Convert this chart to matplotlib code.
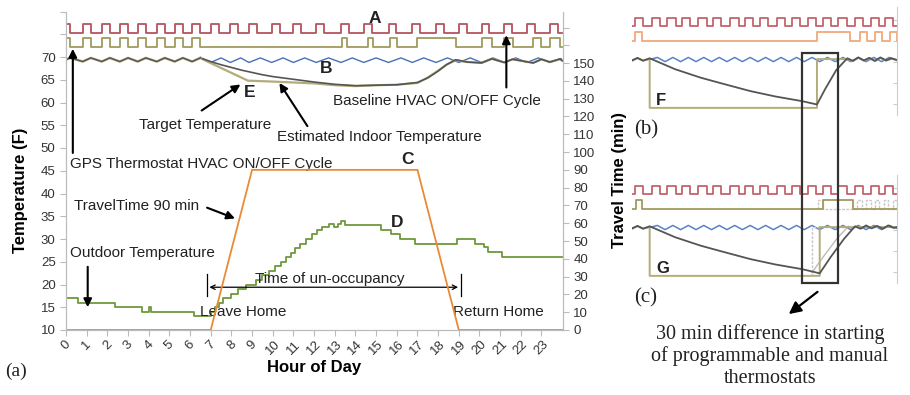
import matplotlib
matplotlib.use("Agg")
import matplotlib.pyplot as plt
from matplotlib.patches import Rectangle
from matplotlib.ticker import FixedLocator, FuncFormatter

plt.rcParams['font.family'] = ['Liberation Sans', 'DejaVu Sans']

# ---------------- data: panel (a) ----------------
hours = list(range(24))

# travel time (min), right axis
travel_t = [0, 7, 9, 17, 19, 24]
travel_v = [0, 0, 90, 90, 0, 0]

# outdoor temperature (F), step curve
out_t = [0, 0.6, 2.35, 3.7, 4.0, 4.1, 6.2, 7.0, 7.2, 7.4, 7.6, 8.0, 8.3, 8.7, 9.2, 9.5, 9.8,
         10.1, 10.4, 10.65, 10.9, 11.1, 11.3, 11.6, 11.9, 12.15, 12.4, 12.7, 12.95, 13.15, 13.3,
         13.5, 15.25, 15.7, 16.15, 16.9, 18.9, 19.8, 20.2, 20.4, 21.1, 24]
out_v = [17, 16, 15, 14, 15, 14, 13, 14, 15, 16, 17, 18, 19, 20, 21, 22, 23,
         24, 25, 26, 27, 28, 29, 30, 31, 32, 32.7, 33.3, 32.6, 33.3, 34,
         33, 32, 31, 30, 29, 30, 29, 28.3, 27.2, 26, 26]

# baseline HVAC on/off (on intervals, hours)
base_on = [(0, 0.2), (0.81, 1.2), (1.73, 2.12), (2.6, 3.0), (3.47, 3.86), (4.39, 4.78),
           (5.26, 5.65), (6.1, 6.5), (7.0, 7.38), (7.95, 8.33), (8.85, 9.23), (9.95, 10.33),
           (11.0, 11.38), (12.1, 12.48), (13.3, 13.68), (14.4, 14.78), (15.6, 15.98),
           (16.75, 17.13), (17.9, 18.28), (19.0, 19.38), (20.1, 20.48), (21.2, 21.58),
           (22.3, 22.68), (23.4, 23.78)]
# GPS thermostat HVAC on/off
gps_on = [(0, 0.2), (0.81, 1.2), (1.73, 2.12), (2.6, 3.0), (3.47, 3.86), (4.39, 4.78),
          (5.26, 5.65), (6.1, 6.5), (13.35, 13.6), (14.6, 14.85), (15.65, 16.0),
          (17.0, 18.85), (20.1, 20.6), (21.2, 21.6), (22.6, 23.0), (23.4, 23.9)]

# indoor temperatures before leaving (all thermostats agree)
early_t = [0, 0.2, 0.81, 1.2, 1.73, 2.12, 2.6, 3.0, 3.47, 3.86, 4.39, 4.78, 5.26, 5.65, 6.1, 6.5]
early_v = [69.4, 69.8, 69.0, 69.8, 69.0, 69.8, 69.0, 69.8, 69.0, 69.8, 69.0, 69.8, 69.0, 69.8, 69.0, 69.8]

# baseline indoor temperature
blue_t = [6.5, 7.0, 7.5, 7.95, 8.45, 8.85, 9.4, 9.95, 10.5, 11.0, 11.55, 12.1, 12.7, 13.3, 13.85,
          14.4, 15.0, 15.6, 16.2, 16.75, 17.3, 17.9, 18.45, 19.0, 19.55, 20.1, 20.65, 21.2,
          21.75, 22.3, 22.85, 23.4, 23.95]
blue_v = [69.8, 68.8, 69.8, 68.8, 69.8, 68.8, 69.8, 68.8, 69.8, 68.8, 69.8, 68.8, 69.8, 68.8, 69.8,
          68.8, 69.8, 68.8, 69.8, 68.8, 69.8, 68.8, 69.8, 68.8, 69.8, 68.8, 69.8, 68.8,
          69.8, 68.8, 69.8, 68.8, 69.6]

# target temperature (GPS)
target_t = [6.5, 6.7, 8.8, 10, 11, 12, 13, 14, 15, 16, 17, 17.5, 18, 18.4, 18.85,
            19.4, 20.1, 20.6, 21.2, 21.6, 22.6, 23.0, 23.4, 23.9, 24]
target_v = [69.8, 69.3, 64.8, 64.6, 64.4, 64.2, 63.8, 63.6, 63.8, 63.9, 64.3, 65.5, 67.0, 68.3, 69.3,
            68.9, 68.7, 69.6, 68.8, 69.5, 68.7, 69.5, 68.9, 69.5, 69.2]

# estimated indoor temperature (GPS)
est_t = [6.5, 7, 7.5, 8, 8.5, 9, 9.5, 10, 10.5, 11, 11.5, 12, 13, 14, 15, 16, 17, 17.5, 18, 18.4,
         18.85, 19.4, 20.1, 20.6, 21.2, 21.6, 22.6, 23.0, 23.4, 23.9, 24]
est_v = [69.8, 69.0, 68.3, 67.7, 67.1, 66.6, 66.1, 65.7, 65.4, 65.1, 64.8, 64.5, 64.0, 63.7, 63.8,
         63.9, 64.4, 65.4, 66.9, 68.3, 69.4, 68.9, 68.7, 69.6, 68.8, 69.5, 68.7, 69.5, 68.9, 69.6, 69.2]

leave_hour, return_hour = 6.8, 19.1

# ---------------- data: panels (b) and (c) ----------------
pb_red_on = [(0.27, 1.0), (1.8, 2.55), (3.2, 3.95), (4.5, 5.25), (6.0, 6.75), (7.3, 8.05),
             (8.9, 9.65), (10.2, 10.95), (11.6, 12.35), (13.1, 13.85), (14.5, 15.25),
             (15.9, 16.65), (17.3, 18.05), (18.7, 19.45), (20.2, 20.95), (21.6, 22.35), (22.9, 23.65)]
pb_orange_on = [(0.27, 0.9), (16.75, 19.75), (20.65, 21.3), (22.0, 22.6), (23.4, 24.0)]
pc_olive_on = [(0.4, 0.9), (17.3, 20.0)]
pc_manual_on = [(16.8, 17.3), (20.4, 20.8), (21.2, 21.6), (22.0, 22.4), (22.8, 23.2), (23.6, 24.0)]

pan_blue_t = [1.6, 2.3, 3.0, 3.7, 4.4, 5.1, 5.8, 6.5, 7.2, 7.9, 8.6, 9.3, 10.0, 10.7, 11.4, 12.1,
              12.8, 13.5, 14.2, 14.9, 15.6, 16.3, 17.0, 17.7, 18.4, 19.1, 19.8, 20.5, 21.2,
              21.9, 22.6, 23.3, 24.0]
pan_blue_v = [70.5, 71.0, 70.0, 71.0, 70.0, 71.0, 70.0, 71.0, 70.0, 71.0, 70.0, 71.0, 70.0, 71.0,
              70.0, 71.0, 70.0, 71.0, 70.0, 71.0, 70.0, 71.0, 70.0, 71.0, 70.0, 71.0, 70.0,
              71.0, 70.0, 71.0, 70.0, 71.0, 70.3]

pb_est_t = [0, 0.5, 1.0, 1.6, 3.9, 6.2, 8.0, 10.7, 13.0, 15.4, 16.75, 17.5, 18.5, 19.5,
            20.0, 20.5, 21.0, 21.5, 22.0, 22.5, 23.0, 23.5, 24.0]
pb_est_v = [70.3, 70.9, 70.2, 70.8, 68.2, 66.2, 64.9, 63.0, 61.7, 60.6, 59.8, 63.5, 68.0, 70.8,
            70.2, 71.0, 70.3, 70.9, 70.2, 71.0, 70.3, 70.8, 70.4]
pb_target_t = [0, 0.5, 1.0, 1.6, 1.6, 16.75, 16.75, 19.5, 20.0, 20.5, 21.0, 21.5, 22.0,
               22.5, 23.0, 23.5, 24.0]
pb_target_v = [70.2, 70.8, 70.3, 70.6, 59.0, 59.0, 70.6, 70.6, 70.1, 70.9, 70.2, 70.8, 70.1,
               70.9, 70.2, 70.7, 70.3]

pc_est_t = [0, 0.5, 1.0, 1.6, 3.9, 6.2, 8.0, 10.7, 13.0, 15.4, 17.0, 18.0, 19.2, 20.2,
            20.7, 21.2, 21.7, 22.2, 22.7, 23.2, 23.7, 24.0]
pc_est_v = [70.3, 70.9, 70.2, 70.8, 68.2, 66.2, 64.9, 63.0, 61.7, 60.6, 59.6, 63.5, 67.8, 70.8,
            70.2, 71.0, 70.3, 70.9, 70.2, 71.0, 70.4, 70.6]
pc_manual_est_t = [16.3, 17.4, 18.6, 19.6]
pc_manual_est_v = [59.8, 63.8, 68.0, 70.8]
pc_target_t = [0, 0.5, 1.0, 1.6, 1.6, 17.0, 17.0, 20.2, 24.0]
pc_target_v = [70.2, 70.8, 70.3, 70.6, 59.0, 59.0, 70.6, 70.6, 70.6]
pc_manual_target_t = [16.3, 16.3, 17.0]
pc_manual_target_v = [59.0, 70.6, 70.6]

box_hours = (15.4, 18.7)

RED = '#B4545E'
OLIVE = '#A09A5E'
KHAKI = '#B3AC7A'
BLUE = '#4A70B8'
GRAY = '#555555'
ORANGE = '#EA8A35'
GREEN = '#70993D'
SPINE = '#BBBBBB'
TXT = '#222222'


def square(intervals, lo, hi, t0=0, t1=24):
    xs, ys = [t0], [lo]
    for a, b in intervals:
        xs += [a, a, b, b]
        ys += [lo, hi, hi, lo]
    xs.append(t1)
    ys.append(lo)
    return xs, ys


fig = plt.figure(figsize=(9.1, 3.95), dpi=100)

# ---------------- panel (a) ----------------
ax = fig.add_axes([66 / 910, 1 - 330 / 395, 497 / 910, 318.5 / 395])
ax2 = ax.twinx()
ax.set_xlim(0, 24.04)
ax.set_ylim(10, 80)
ax2.set_ylim(0, 179)

ax2.plot(travel_t, travel_v, color=ORANGE, lw=1.3)
ax.plot(out_t, out_v, drawstyle='steps-post', color=GREEN, lw=1.3)

xs, ys = square(base_on, 75.3, 77.3)
ax.plot(xs, ys, color=RED, lw=1.3)
xs, ys = square(gps_on, 72.2, 74.2)
ax.plot(xs, ys, color=OLIVE, lw=1.3)

ax.plot(blue_t, blue_v, color=BLUE, lw=1.0)
ax.plot(target_t, target_v, color=KHAKI, lw=1.6)
ax.plot(est_t, est_v, color=GRAY, lw=1.2)
ax.plot(early_t, early_v, color=KHAKI, lw=1.8)
ax.plot(early_t, early_v, color=GRAY, lw=1.0)

for sp in ['top']:
    ax.spines[sp].set_visible(False)
    ax2.spines[sp].set_visible(False)
for a in (ax, ax2):
    for sp in ['left', 'right', 'bottom']:
        a.spines[sp].set_color(SPINE)

ax.set_xticks(hours)
ax.set_xticklabels([str(h) for h in hours], rotation=45, ha='center', va='top', fontsize=9.5)
ax.yaxis.set_major_locator(FixedLocator(list(range(10, 85, 5))))
ax.yaxis.set_major_formatter(FuncFormatter(lambda v, p: '' if v > 70 else '%d' % v))
ax2.yaxis.set_major_locator(FixedLocator(list(range(0, 190, 10))))
ax2.yaxis.set_major_formatter(FuncFormatter(lambda v, p: '' if v > 150 else '%d' % v))
ax.tick_params(axis='both', colors=SPINE, labelcolor='#333333', labelsize=9.5, length=4)
ax.tick_params(axis='x', pad=2)
ax2.tick_params(axis='y', colors=SPINE, labelcolor='#333333', labelsize=9.5, length=4)

ax.set_xlabel('Hour of Day', fontsize=12, fontweight='bold', labelpad=2)
ax.set_ylabel('Temperature (F)', fontsize=12, fontweight='bold')
ax.yaxis.set_label_coords(-0.077, 0.44)
ax2.set_ylabel('Travel Time (min)', fontsize=12, fontweight='bold')
ax2.yaxis.set_label_coords(1.099, 0.47)

# letters
for lab, x, y in [('A', 14.95, 78.4), ('B', 12.6, 67.4), ('C', 16.5, 47.4),
                  ('D', 16.0, 33.7), ('E', 8.9, 62.2)]:
    ax.text(x, y, lab, fontsize=12.5, fontweight='bold', ha='center', va='center', color=TXT)

arrow = dict(arrowstyle='-|>', color='black', lw=1.5, mutation_scale=12)
tk = dict(fontsize=11, color=TXT, va='center', ha='left')
ax.annotate('', xy=(21.3, 75.4), xytext=(21.3, 62.7), arrowprops=arrow)
ax.text(12.9, 60.3, 'Baseline HVAC ON/OFF Cycle', **tk)
ax.annotate('', xy=(8.55, 64.3), xytext=(6.45, 57.9), arrowprops=arrow)
ax.text(3.55, 55.1, 'Target Temperature', **tk)
ax.annotate('', xy=(10.25, 64.8), xytext=(11.75, 54.3), arrowprops=arrow)
ax.text(10.2, 52.4, 'Estimated Indoor Temperature', **tk)
ax.annotate('', xy=(0.33, 72.4), xytext=(0.33, 48.3), arrowprops=arrow)
ax.text(0.18, 46.4, 'GPS Thermostat HVAC ON/OFF Cycle', **tk)
ax.annotate('', xy=(8.3, 34.3), xytext=(6.7, 37.1), arrowprops=arrow)
ax.text(0.4, 37.3, 'TravelTime 90 min', **tk)
ax.annotate('', xy=(1.05, 14.4), xytext=(1.05, 24.5), arrowprops=arrow)
ax.text(0.2, 26.9, 'Outdoor Temperature', **tk)

ax.annotate('', xy=(leave_hour, 19.4), xytext=(return_hour, 19.4),
            arrowprops=dict(arrowstyle='<->', color='black', lw=0.9, mutation_scale=8))
ax.plot([leave_hour, leave_hour], [17.4, 22.3], color='black', lw=0.9)
ax.plot([return_hour, return_hour], [17.4, 22.3], color='black', lw=0.9)
ax.text(12.75, 21.1, 'Time of un-occupancy', fontsize=11, color=TXT, ha='center', va='center')
ax.text(6.5, 14.0, 'Leave Home', **tk)
ax.text(18.7, 14.0, 'Return Home', **tk)

serif = ['Liberation Serif', 'DejaVu Serif']
fig.text(5 / 910, 1 - 371 / 395, '(a)', fontsize=14, family=serif, va='center', color=TXT)

# ---------------- panels (b) and (c) ----------------
ylo, yhi = 57.3, 83.0


def small_panel(top_px):
    a = fig.add_axes([632 / 910, 1 - (top_px + 108) / 395, 265 / 910, 108 / 395])
    a.set_xlim(0, 24)
    a.set_ylim(ylo, yhi)
    for sp in ['left', 'top', 'bottom']:
        a.spines[sp].set_visible(False)
    a.spines['right'].set_color('#CCCCCC')
    a.set_xticks([])
    a.yaxis.tick_right()
    a.set_yticks([60, 65, 70, 75, 80])
    a.tick_params(axis='y', direction='in', length=3, colors='#CCCCCC', labelright=False)
    return a


axb = small_panel(7)
xs, ys = square(pb_red_on, 78.5, 80.4)
axb.plot(xs, ys, color='#C0656E', lw=1.3)
xs, ys = square(pb_orange_on, 74.8, 77.1)
axb.plot(xs, ys, color='#F2AE86', lw=1.4)
axb.plot(pan_blue_t, pan_blue_v, color='#5B82C4', lw=1.1)
axb.plot(pb_target_t, pb_target_v, color=KHAKI, lw=1.4)
axb.plot(pb_est_t, pb_est_v, color=GRAY, lw=1.3)
axb.text(2.2, 60.7, 'F', fontsize=12, fontweight='bold', ha='left', va='center', color=TXT)
fig.text(634 / 910, 1 - 130 / 395, '(b)', fontsize=15, family=serif, va='center', color=TXT)

axc = small_panel(175)
xs, ys = square(pb_red_on, 78.5, 80.4)
axc.plot(xs, ys, color='#C0656E', lw=1.3)
xs, ys = square(pc_manual_on, 74.8, 77.1, t0=16.8, t1=24)
axc.plot(xs, ys, color='#C8C8C8', lw=1.0, ls=(0, (2, 1)))
xs, ys = square(pc_olive_on, 74.8, 77.1)
axc.plot(xs, ys, color=OLIVE, lw=1.3)
axc.plot(pan_blue_t, pan_blue_v, color='#5B82C4', lw=1.1)
axc.plot(pc_manual_target_t, pc_manual_target_v, color='#C8C8C8', lw=1.0, ls=(0, (2, 1)))
axc.plot(pc_manual_est_t, pc_manual_est_v, color='#BBBBBB', lw=1.0)
axc.plot(pc_target_t, pc_target_v, color=KHAKI, lw=1.4)
axc.plot(pc_est_t, pc_est_v, color=GRAY, lw=1.3)
axc.text(2.2, 60.7, 'G', fontsize=12, fontweight='bold', ha='left', va='center', color=TXT)
fig.text(634 / 910, 1 - 298 / 395, '(c)', fontsize=15, family=serif, va='center', color=TXT)

# highlight box spanning both small panels
fig.canvas.draw()
inv = fig.transFigure.inverted()
x0, y1 = inv.transform(axb.transData.transform((box_hours[0], 72.1)))
x1, y0 = inv.transform(axc.transData.transform((box_hours[1], 57.4)))
fig.patches.append(Rectangle((x0, y0), x1 - x0, y1 - y0, transform=fig.transFigure,
                             fill=False, edgecolor='#333333', lw=1.6))

axc.annotate('', xy=(14.0, 49.5), xytext=(17.0, 55.6), annotation_clip=False,
             arrowprops=dict(arrowstyle='-|>', color='black', lw=1.6, mutation_scale=18))
fig.text(770 / 910, 1 - 356 / 395,
         '30 min difference in starting\nof programmable and manual\nthermostats',
         fontsize=14.5, family=serif, ha='center', va='center', linespacing=1.2, color=TXT)

fig.savefig('out.png', dpi=100)
